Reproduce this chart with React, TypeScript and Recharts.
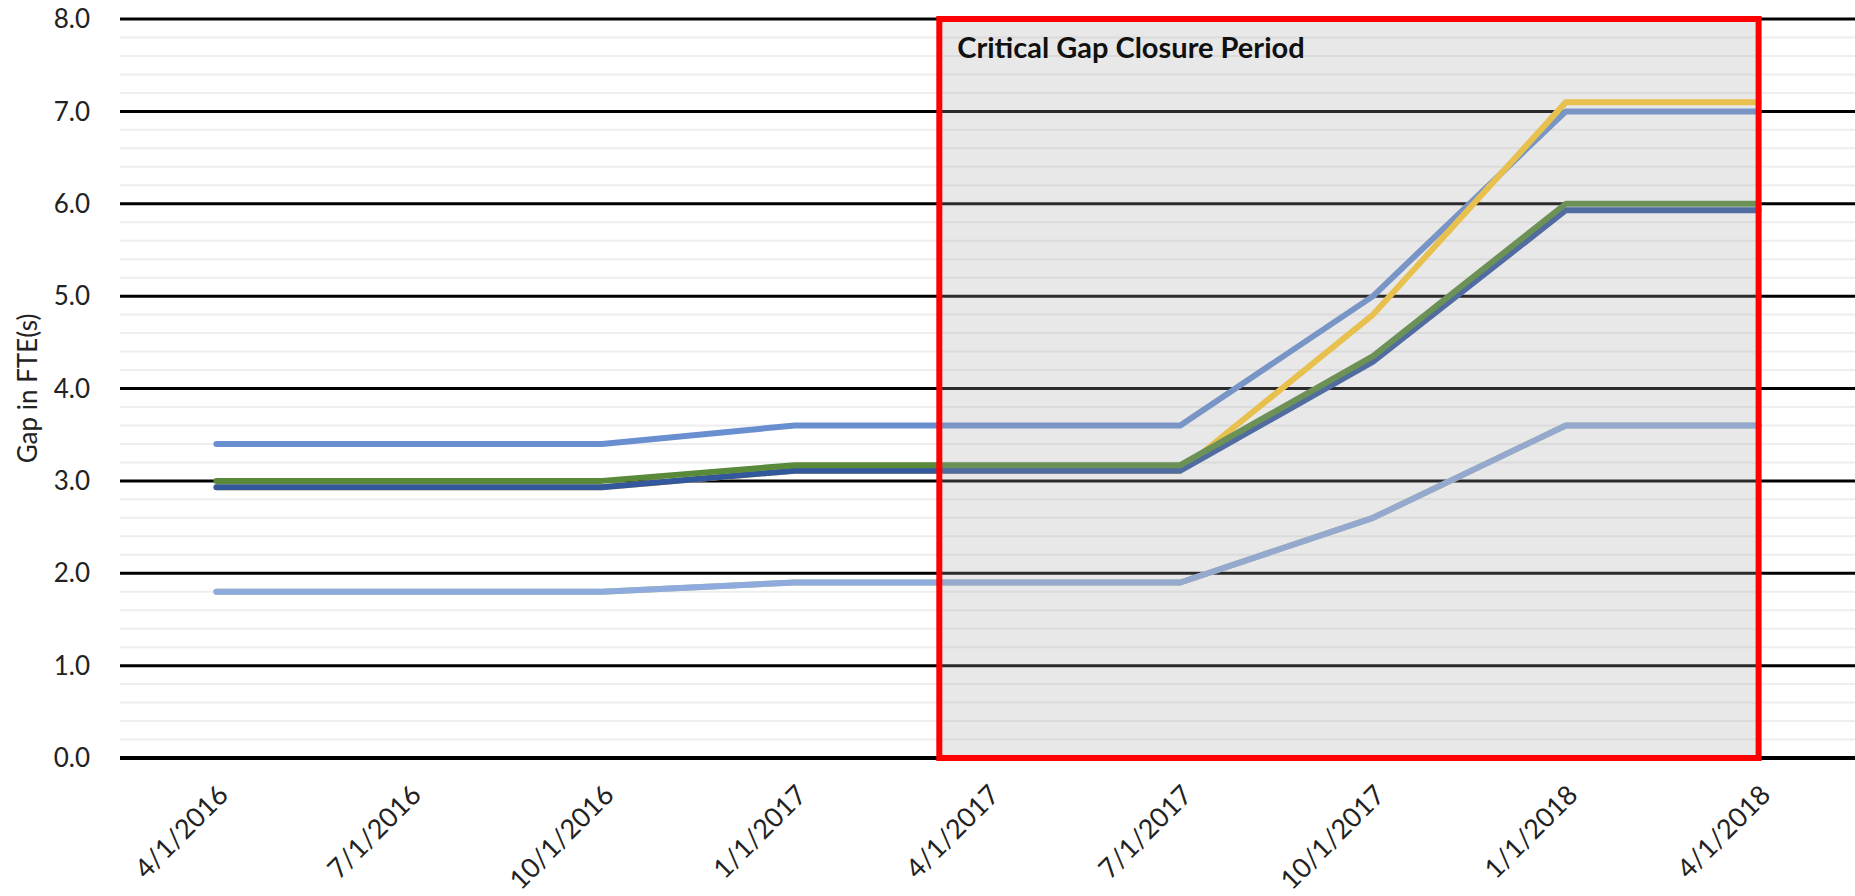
import {
  CartesianGrid,
  Line,
  LineChart,
  ReferenceArea,
  ReferenceLine,
  XAxis,
  YAxis,
} from "recharts";

// quarter dates on the x axis
const dates = [
  "4/1/2016",
  "7/1/2016",
  "10/1/2016",
  "1/1/2017",
  "4/1/2017",
  "7/1/2017",
  "10/1/2017",
  "1/1/2018",
  "4/1/2018",
];

// gap in FTE(s), one value per date
const midBlue = [3.4, 3.4, 3.4, 3.6, 3.6, 3.6, 5.0, 7.0, 7.0];
const green = [3.0, 3.0, 3.0, 3.17, 3.17, 3.17, 4.35, 6.0, 6.0];
const darkBlue = [2.93, 2.93, 2.93, 3.11, 3.11, 3.11, 4.29, 5.93, 5.93];
const yellow = [2.93, 2.93, 2.93, 3.11, 3.11, 3.11, 4.8, 7.1, 7.1];
const lightBlue = [1.8, 1.8, 1.8, 1.9, 1.9, 1.9, 2.6, 3.6, 3.6];
const lightGreen = [1.8, 1.8, 1.8, 1.9, 1.9, 1.9, 2.6, 3.6, 3.6];

const yTicks = [0, 1, 2, 3, 4, 5, 6, 7, 8];
const minorTicks = [
  0.2, 0.4, 0.6, 0.8, 1.2, 1.4, 1.6, 1.8, 2.2, 2.4, 2.6, 2.8, 3.2, 3.4, 3.6,
  3.8, 4.2, 4.4, 4.6, 4.8, 5.2, 5.4, 5.6, 5.8, 6.2, 6.4, 6.6, 6.8, 7.2, 7.4,
  7.6, 7.8,
];
const xTicks = [0, 1, 2, 3, 4, 5, 6, 7, 8];

// critical period, in x-index units
const periodStart = 3.75;
const periodEnd = 8;

const data = dates.map((date, i) => ({
  idx: i,
  date,
  midBlue: midBlue[i],
  green: green[i],
  darkBlue: darkBlue[i],
  yellow: yellow[i],
  lightBlue: lightBlue[i],
  lightGreen: lightGreen[i],
}));

const font = "Lato, 'Noto Sans', sans-serif";

const series = [
  { key: "lightGreen", color: "#A9C98E" },
  { key: "lightBlue", color: "#8FAADC" },
  { key: "midBlue", color: "#6A8FD1" },
  { key: "yellow", color: "#FFC92E" },
  { key: "darkBlue", color: "#33589E" },
  { key: "green", color: "#588A3A" },
];

export default function App() {
  return (
    <div style={{ position: "absolute", left: 0, top: 0, width: 1855, height: 896, background: "#fff" }}>
      <LineChart
        width={1855}
        height={896}
        data={data}
        margin={{ top: 19, right: 0, left: 0, bottom: 0 }}
      >
        {minorTicks.map((v) => (
          <ReferenceLine
            key={v}
            y={v}
            stroke="#EEEEEE"
            strokeWidth={2}
            zIndex={-100}
          />
        ))}
        <CartesianGrid vertical={false} stroke="#000" strokeWidth={3} />
        <XAxis
          type="number"
          dataKey="idx"
          domain={[-0.5, 8.5]}
          ticks={xTicks}
          tickFormatter={(i) => dates[i]}
          height={138}
          axisLine={{ stroke: "#000", strokeWidth: 4 }}
          tickLine={false}
          tickSize={0}
          tickMargin={25}
          angle={-45}
          textAnchor="end"
          interval={0}
          tick={{ fontSize: 27, fontFamily: font, fill: "#222" }}
        />
        <YAxis
          domain={[0, 8]}
          ticks={yTicks}
          width={120}
          axisLine={false}
          tickLine={false}
          tickSize={0}
          tickMargin={30}
          tickFormatter={(v) => v.toFixed(1)}
          tick={{ fontSize: 26, fontFamily: font, fill: "#222" }}
          label={{
            value: "Gap in FTE(s)",
            angle: -90,
            position: "center",
            dx: -32,
            fontSize: 26,
            fontFamily: font,
            fill: "#222",
          }}
        />
        {series.map((s) => (
          <Line
            key={s.key}
            type="linear"
            dataKey={s.key}
            stroke={s.color}
            strokeWidth={6}
            strokeLinecap="round"
            strokeLinejoin="round"
            dot={false}
            activeDot={false}
            isAnimationActive={false}
          />
        ))}
        <ReferenceArea
          x1={periodStart}
          x2={periodEnd}
          y1={0}
          y2={8}
          fill="#A6A6A6"
          fillOpacity={0.26}
          stroke="#FF0000"
          strokeWidth={6}
          ifOverflow="visible"
          zIndex={1000}
          label={{
            value: "Critical Gap Closure Period",
            position: "insideTopLeft",
            offset: 18,
            fontSize: 29,
            fontWeight: "bold",
            fontFamily: font,
            fill: "#111",
          }}
        />
      </LineChart>
    </div>
  );
}
